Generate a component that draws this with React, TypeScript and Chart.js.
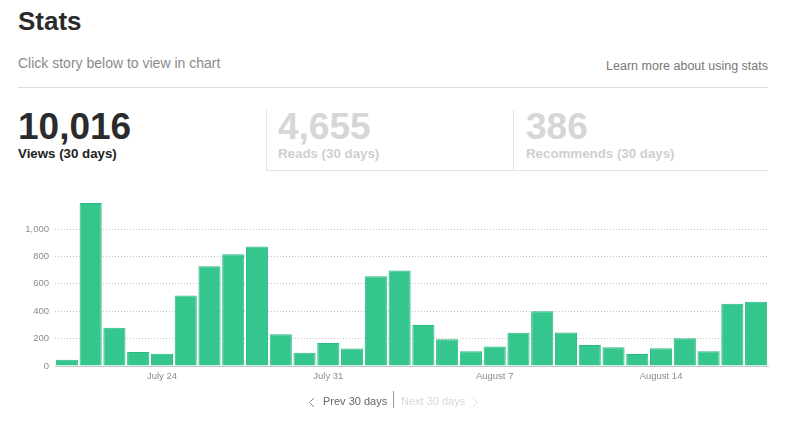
import React, { useEffect, useRef } from "react";
import { Chart, registerables } from "chart.js";

Chart.register(...registerables);

const categories = [
  "July 20", "July 21", "July 22", "July 23", "July 24", "July 25", "July 26",
  "July 27", "July 28", "July 29", "July 30", "July 31", "August 1", "August 2",
  "August 3", "August 4", "August 5", "August 6", "August 7", "August 8",
  "August 9", "August 10", "August 11", "August 12", "August 13", "August 14",
  "August 15", "August 16", "August 17", "August 18",
];
const views = [
  45, 1190, 279, 103, 89, 514, 728, 817, 872, 231, 96, 168, 127, 656, 697,
  300, 195, 108, 142, 243, 399, 245, 154, 137, 87, 130, 202, 108, 454, 469,
];
const xTickLabels = ["July 24", "July 31", "August 7", "August 14"];
const yTickValues = [0, 200, 400, 600, 800, 1000];
const yMax = 1200;
const statValues = ["10,016", "4,655", "386"];
const statLabels = ["Views (30 days)", "Reads (30 days)", "Recommends (30 days)"];

const FONT = '"Liberation Sans", Arial, Helvetica, sans-serif';

function BarChart() {
  const ref = useRef<HTMLCanvasElement | null>(null);
  useEffect(() => {
    if (!ref.current) return;
    const chart = new Chart(ref.current, {
      type: "bar",
      data: {
        labels: categories,
        datasets: [
          {
            data: views,
            backgroundColor: "#34c68d",
            borderColor: "#2cb982",
            borderWidth: 1,
            barPercentage: 0.93,
            categoryPercentage: 1,
          },
        ],
      },
      options: {
        animation: false,
        responsive: false,
        devicePixelRatio: 1,
        layout: { padding: { left: 0, right: 32, top: 10, bottom: 0 } },
        plugins: { legend: { display: false }, tooltip: { enabled: false } },
        scales: {
          x: {
            grid: { display: false, drawTicks: false },
            border: { display: true, color: "#c8c8c8", width: 1 },
            ticks: {
              autoSkip: false,
              maxRotation: 0,
              padding: 5,
              color: "#8c8c8c",
              font: { family: FONT, size: 9.5 },
              callback: function (this: any, val: any) {
                const lab = this.getLabelForValue(val);
                return xTickLabels.includes(lab) ? lab : "";
              },
            },
            afterFit: (scale: any) => {
              scale.height = 24;
            },
          },
          y: {
            min: 0,
            max: yMax,
            grid: {
              drawTicks: false,
              color: (ctx: any) =>
                ctx.tick && ctx.tick.value === 0 ? "rgba(0,0,0,0)" : "#c4c4c4",
              lineWidth: 1,
            },
            border: { display: false, dash: [1, 2] },
            ticks: {
              padding: 6,
              color: "#8c8c8c",
              font: { family: FONT, size: 9.5 },
              callback: (v: any) => Number(v).toLocaleString("en-US"),
            },
            afterBuildTicks: (scale: any) => {
              scale.ticks = yTickValues.map((v) => ({ value: v }));
            },
            afterFit: (scale: any) => {
              scale.width = 55;
            },
          },
        },
      },
    });
    return () => chart.destroy();
  }, []);
  return (
    <canvas
      ref={ref}
      width={800}
      height={200}
      style={{ position: "absolute", left: 0, top: 190, width: 800, height: 200 }}
    />
  );
}

const abs = (o: React.CSSProperties): React.CSSProperties => ({
  position: "absolute",
  whiteSpace: "nowrap",
  fontFamily: FONT,
  margin: 0,
  ...o,
});

export default function App() {
  const tabLefts = [18, 278, 526];
  return (
    <div
      style={{
        position: "absolute",
        left: 0,
        top: 0,
        width: 800,
        height: 421,
        background: "#fff",
        overflow: "hidden",
        fontFamily: FONT,
      }}
    >
      <div style={abs({ left: 18, top: 8, fontSize: 26, lineHeight: "26px", fontWeight: 700, color: "#2b2b2b" })}>
        Stats
      </div>
      <div style={abs({ left: 18, top: 55.5, fontSize: 14, lineHeight: "14px", color: "#8a8a8a" })}>
        Click story below to view in chart
      </div>
      <div style={abs({ right: 32, top: 60, fontSize: 12.5, lineHeight: "12.5px", color: "#777" })}>
        Learn more about using stats
      </div>
      <div style={abs({ left: 18, top: 87, width: 750, height: 1, background: "#dedede" })} />

      {/* tab borders */}
      <div style={abs({ left: 266, top: 110, width: 1, height: 60, background: "#e2e2e2" })} />
      <div style={abs({ left: 513, top: 110, width: 1, height: 60, background: "#e2e2e2" })} />
      <div style={abs({ left: 266, top: 170, width: 502, height: 1, background: "#e2e2e2" })} />

      {statValues.map((v, i) => (
        <div
          key={"v" + i}
          style={abs({
            left: tabLefts[i],
            top: 107.5,
            fontSize: 37,
            lineHeight: "37px",
            fontWeight: 700,
            color: i === 0 ? "#2b2b2b" : "#d6d6d6",
          })}
        >
          {v}
        </div>
      ))}
      {statLabels.map((l, i) => (
        <div
          key={"l" + i}
          style={abs({
            left: tabLefts[i],
            top: 147.3,
            fontSize: 13.3,
            lineHeight: "13.3px",
            fontWeight: 700,
            color: i === 0 ? "#222" : "#cfcfcf",
          })}
        >
          {l}
        </div>
      ))}

      <BarChart />

      {/* pagination */}
      <svg
        width={800}
        height={421}
        style={{ position: "absolute", left: 0, top: 0, pointerEvents: "none" }}
      >
        <polyline points="314,398 309.5,402.5 314,407" fill="none" stroke="#8a8a8a" strokeWidth={1} />
        <line x1={393.5} y1={391} x2={393.5} y2={408} stroke="#9a9a9a" strokeWidth={1} />
        <polyline points="473,398 477.5,402.5 473,407" fill="none" stroke="#dedede" strokeWidth={1} />
      </svg>
      <div style={abs({ left: 323, top: 396, fontSize: 11, lineHeight: "11px", color: "#666" })}>
        Prev 30 days
      </div>
      <div style={abs({ left: 401, top: 396, fontSize: 11, lineHeight: "11px", color: "#d8d8d8" })}>
        Next 30 days
      </div>
    </div>
  );
}
